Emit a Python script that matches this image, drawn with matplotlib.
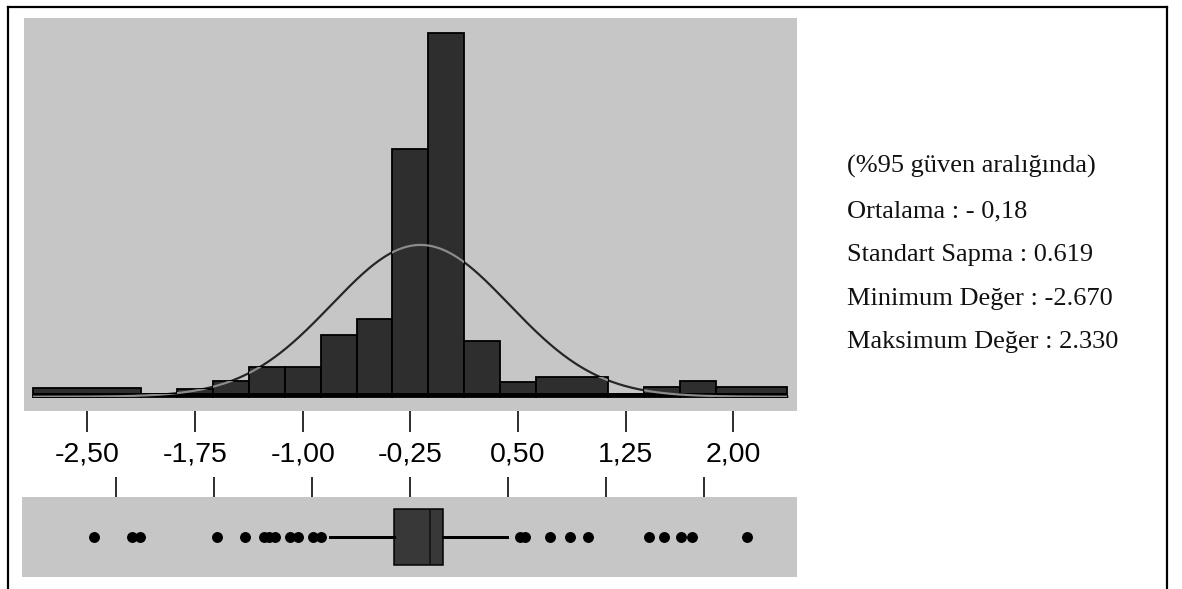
import numpy as np
import matplotlib
matplotlib.use("Agg")
import matplotlib.pyplot as plt
from matplotlib.lines import Line2D
from matplotlib.path import Path
from matplotlib.patches import PathPatch

# ---------------- data ----------------
bin_edges = [-2.875, -2.125, -1.875, -1.625, -1.375, -1.125, -0.875, -0.625,
             -0.375, -0.125, 0.125, 0.375, 0.625, 1.125, 1.375, 1.625, 1.875, 2.375]
bar_heights = [0.9, 0.27, 0.85, 1.7, 3.1, 3.1, 6.55, 8.3,
               26.3, 38.6, 5.9, 1.6, 2.06, 0.3, 1.06, 1.7, 1.0]   # percent
BIN_WIDTH = 0.25
MEAN = -0.18
SD = 0.619

tick_values = [-2.50, -1.75, -1.00, -0.25, 0.50, 1.25, 2.00]
tick_labels = ['-2,50', '-1,75', '-1,00', '-0,25', '0,50', '1,25', '2,00']

q1, median, q3 = -0.37, -0.10, 0.0
whisker_lo, whisker_hi = -0.86, 0.49
outliers_low = [-2.67, -2.38, -2.32, -1.73, -1.51, -1.37, -1.33, -1.28,
                -1.17, -1.11, -0.99, -0.93]
outliers_high = [0.59, 0.63, 0.82, 0.97, 1.11, 1.58, 1.69, 1.82, 1.91, 2.33]

stat_lines = ['(%95 güven aralığında)',
              'Ortalama : - 0,18',
              'Standart Sapma : 0.619',
              'Minimum Değer : -2.670',
              'Maksimum Değer : 2.330']

# ---------------- layout helpers ----------------
W, H = 1182, 589
DPI = 100
fig = plt.figure(figsize=(W / DPI, H / DPI), dpi=DPI)
fig.patch.set_facecolor('white')


def fx(px):
    return px / W


def fy(py):
    return 1 - py / H


BG = '#c6c6c6'
BAR = '#2e2e2e'
PX = 72.0 / DPI  # points per pixel

# ---------------- histogram ----------------
ax_h = fig.add_axes([fx(24), fy(411), fx(797) - fx(24), (411 - 18) / H])
ax_h.set_facecolor(BG)
for s in ax_h.spines.values():
    s.set_visible(False)
ax_h.set_xlim(-2.9408, 2.4422)
ax_h.set_ylim(-1.518, 40.2)

edges = np.array(bin_edges)
widths = np.diff(edges)
bars = ax_h.bar(edges[:-1], bar_heights, width=widths, align='edge',
                color=BAR, edgecolor='black', linewidth=1.3 * PX * 1.4, zorder=3)
# thick baseline
ax_h.plot([edges[0], edges[-1]], [0.2, 0.2], color='black',
          lw=4 * PX, solid_capstyle='butt', zorder=4)

# fitted normal curve (from stated mean / sd), in percent per bin
xs = np.linspace(edges[0], edges[-1], 600)
ys = 100 * BIN_WIDTH * np.exp(-(xs - MEAN) ** 2 / (2 * SD ** 2)) / (SD * np.sqrt(2 * np.pi))
ax_h.plot(xs, ys, color='#262626', lw=2.2 * PX, zorder=2)
# lighter trace where the curve runs through the bars
verts, codes = [], []
for x0, w, h in zip(edges[:-1], widths, bar_heights):
    verts += [(x0, 0), (x0 + w, 0), (x0 + w, h), (x0, h), (x0, 0)]
    codes += [Path.MOVETO, Path.LINETO, Path.LINETO, Path.LINETO, Path.CLOSEPOLY]
clip = PathPatch(Path(verts, codes), transform=ax_h.transData,
                 facecolor='none', edgecolor='none')
ax_h.add_patch(clip)
light, = ax_h.plot(xs, ys, color='#8c8c8c', lw=2.2 * PX, zorder=5)
light.set_clip_path(clip)

ax_h.set_yticks([])
ax_h.set_xticks(tick_values)
ax_h.set_xticklabels(tick_labels, family='Liberation Sans', fontsize=20.5)
ax_h.tick_params(axis='x', direction='out', length=21 * PX, width=1.6 * PX,
                 pad=6.5, color='black')

# ---------------- box plot band ----------------
ax_b = fig.add_axes([fx(22), fy(577), fx(797) - fx(22), 80 / H])
ax_b.set_facecolor(BG)
for s in ax_b.spines.values():
    s.set_visible(False)
ax_b.set_xlim(-3.219, 2.710)
ax_b.set_ylim(-1, 1)

stats = [dict(med=median, q1=q1, q3=q3, whislo=whisker_lo, whishi=whisker_hi,
              fliers=np.array(outliers_low + outliers_high), label='')]
ax_b.bxp(stats, positions=[0], widths=[1.42], orientation='horizontal',
         patch_artist=True, showcaps=False, manage_ticks=False,
         boxprops=dict(facecolor='#383838', edgecolor='black', linewidth=1.5 * PX),
         medianprops=dict(color='#111111', linewidth=1.6 * PX),
         whiskerprops=dict(color='black', linewidth=3 * PX),
         flierprops=dict(marker='o', markerfacecolor='black', markeredgecolor='black',
                         markersize=9.5 * PX, linestyle='none'))
ax_b.set_yticks([])
ax_b.set_xticks(tick_values)
ax_b.set_xticklabels([])
ax_b.xaxis.set_ticks_position('top')
ax_b.tick_params(axis='x', direction='out', length=20 * PX, width=1.6 * PX,
                 color='black', labeltop=False, labelbottom=False)

# ---------------- statistics text ----------------
baselines = [173, 217, 261, 304.5, 348]
for txt, yb in zip(stat_lines, baselines):
    fig.text(fx(847), fy(yb), txt, family='Liberation Serif', fontsize=19,
             va='baseline', ha='left', color='#111111')

# ---------------- outer frame ----------------
lw_frame = 2.2 * PX
fig.add_artist(Line2D([fx(8.3), fx(8.3)], [fy(6.7), fy(589)], color='black', lw=lw_frame))
fig.add_artist(Line2D([fx(8.3), fx(1166.7)], [fy(6.7), fy(6.7)], color='black', lw=lw_frame))
fig.add_artist(Line2D([fx(1166.7), fx(1166.7)], [fy(6.7), fy(589)], color='black', lw=lw_frame))

fig.savefig('out.png', dpi=DPI, facecolor='white')
